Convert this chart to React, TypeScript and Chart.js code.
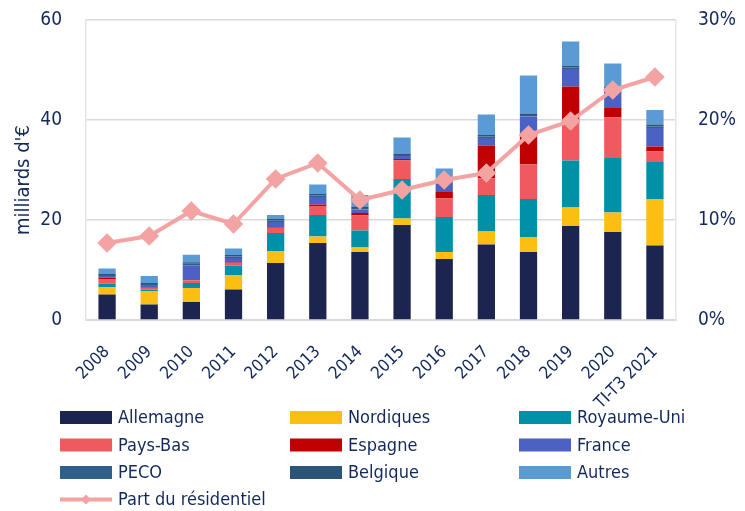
import React, { useEffect, useRef } from "react";
import { Chart, registerables } from "chart.js";

Chart.register(...registerables);

const categories = ["2008", "2009", "2010", "2011", "2012", "2013", "2014", "2015", "2016", "2017", "2018", "2019", "2020", "TI-T3 2021"];

const allemagne = [5.1, 3.1, 3.6, 6.1, 11.4, 15.4, 13.6, 19.0, 12.2, 15.1, 13.6, 18.8, 17.6, 14.9];
const nordiques = [1.5, 2.7, 2.8, 2.9, 2.4, 1.3, 0.9, 1.3, 1.4, 2.6, 2.9, 3.7, 3.9, 9.3];
const royaumeUni = [0.7, 0.3, 1.0, 1.9, 3.6, 4.3, 3.4, 7.9, 7.0, 7.3, 7.7, 9.4, 10.9, 7.4];
const paysBas = [0.9, 0.3, 0.5, 0.5, 1.0, 1.8, 3.0, 3.7, 3.7, 3.3, 6.9, 7.5, 8.1, 2.1];
const espagne = [0.3, 0.1, 0.05, 0.1, 0.1, 0.3, 0.5, 0.3, 1.3, 6.6, 5.9, 7.3, 1.9, 1.0];
const france = [0.3, 0.5, 3.0, 0.9, 1.1, 1.5, 0.7, 0.6, 1.9, 1.5, 3.7, 3.5, 3.7, 3.7];
const peco = [0.2, 0.2, 0.3, 0.3, 0.3, 0.3, 0.3, 0.2, 0.3, 0.3, 0.3, 0.3, 0.3, 0.3];
const belgique = [0.2, 0.2, 0.3, 0.3, 0.3, 0.3, 0.3, 0.2, 0.2, 0.3, 0.3, 0.3, 0.3, 0.4];
const autres = [1.1, 1.4, 1.5, 1.3, 0.8, 1.9, 2.3, 3.3, 2.3, 4.1, 7.6, 4.9, 4.6, 2.9];
const partResidentiel = [7.7, 8.4, 10.9, 9.6, 14.1, 15.7, 12.0, 13.0, 14.0, 14.7, 18.5, 19.9, 23.0, 24.3];

const leftTicks = [0, 20, 40, 60];
const rightTicks = [0, 10, 20, 30];
const yTitle = "milliards d'€";

const TEXT = "#13295b";
const FONT = "'DejaVu Sans Condensed', 'DejaVu Sans', sans-serif";
const GRID = "#d9d9d9";

const barSeries = [
  { label: "Allemagne", data: allemagne, color: "#1b2550" },
  { label: "Nordiques", data: nordiques, color: "#fdbe14" },
  { label: "Royaume-Uni", data: royaumeUni, color: "#0090a8" },
  { label: "Pays-Bas", data: paysBas, color: "#f05a5f" },
  { label: "Espagne", data: espagne, color: "#c00000" },
  { label: "France", data: france, color: "#4b62c4" },
  { label: "PECO", data: peco, color: "#2f5f8a" },
  { label: "Belgique", data: belgique, color: "#2c5478" },
  { label: "Autres", data: autres, color: "#5b9bd5" },
];

const legendPlugin = {
  id: "gridLegend",
  afterDraw(chart: any) {
    const ctx = chart.ctx;
    const cols = [60, 290, 519];
    const rowY = [417.5, 445, 472.5, 499.5];
    const boxW = 52;
    ctx.save();
    ctx.font = `18px ${FONT}`;
    ctx.textBaseline = "middle";
    ctx.textAlign = "left";
    chart.data.datasets.forEach((ds: any, i: number) => {
      const x = cols[i % 3];
      const y = rowY[Math.floor(i / 3)];
      if (ds.type === "line") {
        ctx.strokeStyle = ds.borderColor;
        ctx.lineWidth = 4;
        ctx.beginPath();
        ctx.moveTo(x, y);
        ctx.lineTo(x + boxW, y);
        ctx.stroke();
        ctx.fillStyle = ds.borderColor;
        const cx = x + boxW / 2;
        ctx.beginPath();
        ctx.moveTo(cx, y - 5);
        ctx.lineTo(cx + 5, y);
        ctx.lineTo(cx, y + 5);
        ctx.lineTo(cx - 5, y);
        ctx.closePath();
        ctx.fill();
      } else {
        ctx.fillStyle = ds.backgroundColor;
        ctx.fillRect(x, y - 6.5, boxW, 13);
      }
      ctx.fillStyle = TEXT;
      ctx.fillText(ds.label, x + boxW + 6, y + 1);
    });
    // y axis title
    ctx.translate(24, 180);
    ctx.rotate(-Math.PI / 2);
    ctx.font = `20px ${FONT}`;
    ctx.textAlign = "center";
    ctx.fillText(yTitle, 0, 0);
    ctx.restore();
  },
};

export default function App() {
  const ref = useRef<HTMLCanvasElement | null>(null);
  useEffect(() => {
    document.body.style.margin = "0";
    if (!ref.current) return;
    const datasets: any[] = barSeries.map((s) => ({
      type: "bar",
      label: s.label,
      data: s.data,
      backgroundColor: s.color,
      borderWidth: 0,
      yAxisID: "y",
      stack: "s",
      order: 1,
      barPercentage: 0.41,
      categoryPercentage: 1,
    }));
    datasets.push({
      type: "line",
      label: "Part du résidentiel",
      data: partResidentiel,
      borderColor: "#f4a3a3",
      backgroundColor: "#f4a3a3",
      borderWidth: 4,
      pointStyle: "rectRot",
      pointRadius: 7,
      pointBackgroundColor: "#f4a3a3",
      pointBorderColor: "#f4a3a3",
      yAxisID: "y1",
      order: 0,
      tension: 0,
    });
    const chart = new Chart(ref.current, {
      type: "bar",
      data: { labels: categories, datasets },
      options: {
        responsive: false,
        animation: false,
        layout: { padding: { top: 20, bottom: 0, left: 0, right: 0 } },
        plugins: { legend: { display: false }, tooltip: { enabled: false } },
        scales: {
          x: {
            stacked: true,
            grid: { display: false },
            border: { display: true, color: GRID, width: 2 },
            ticks: {
              color: TEXT,
              font: { family: FONT, size: 17 },
              maxRotation: 45,
              minRotation: 45,
              padding: 14,
              autoSkip: false,
            },
            afterFit: (s: any) => {
              s.height = 191;
              s.paddingLeft = 0;
              s.paddingRight = 0;
            },
          },
          y: {
            stacked: true,
            position: "left",
            min: 0,
            max: 60,
            afterBuildTicks: (s: any) => {
              s.ticks = leftTicks.map((v) => ({ value: v }));
            },
            grid: { color: GRID, lineWidth: 1.5, drawTicks: false },
            border: { display: true, color: "#e6e6e6", width: 1.5 },
            ticks: { color: TEXT, font: { family: FONT, size: 19 }, padding: 24 },
            afterFit: (s: any) => {
              s.width = 86;
              s.paddingTop = 0;
              s.paddingBottom = 0;
            },
          },
          y1: {
            position: "right",
            min: 0,
            max: 30,
            afterBuildTicks: (s: any) => {
              s.ticks = rightTicks.map((v) => ({ value: v }));
            },
            grid: { drawOnChartArea: false, drawTicks: false },
            border: { display: true, color: "#e6e6e6", width: 1.5 },
            ticks: {
              color: TEXT,
              font: { family: FONT, size: 19 },
              padding: 22,
              callback: (v: any) => `${v}%`,
            },
            afterFit: (s: any) => {
              s.width = 69;
              s.paddingTop = 0;
              s.paddingBottom = 0;
            },
          },
        },
      },
      plugins: [legendPlugin],
    } as any);
    return () => chart.destroy();
  }, []);
  return (
    <div style={{ width: 745, height: 511 }}>
      <canvas ref={ref} width={745} height={511} />
    </div>
  );
}
